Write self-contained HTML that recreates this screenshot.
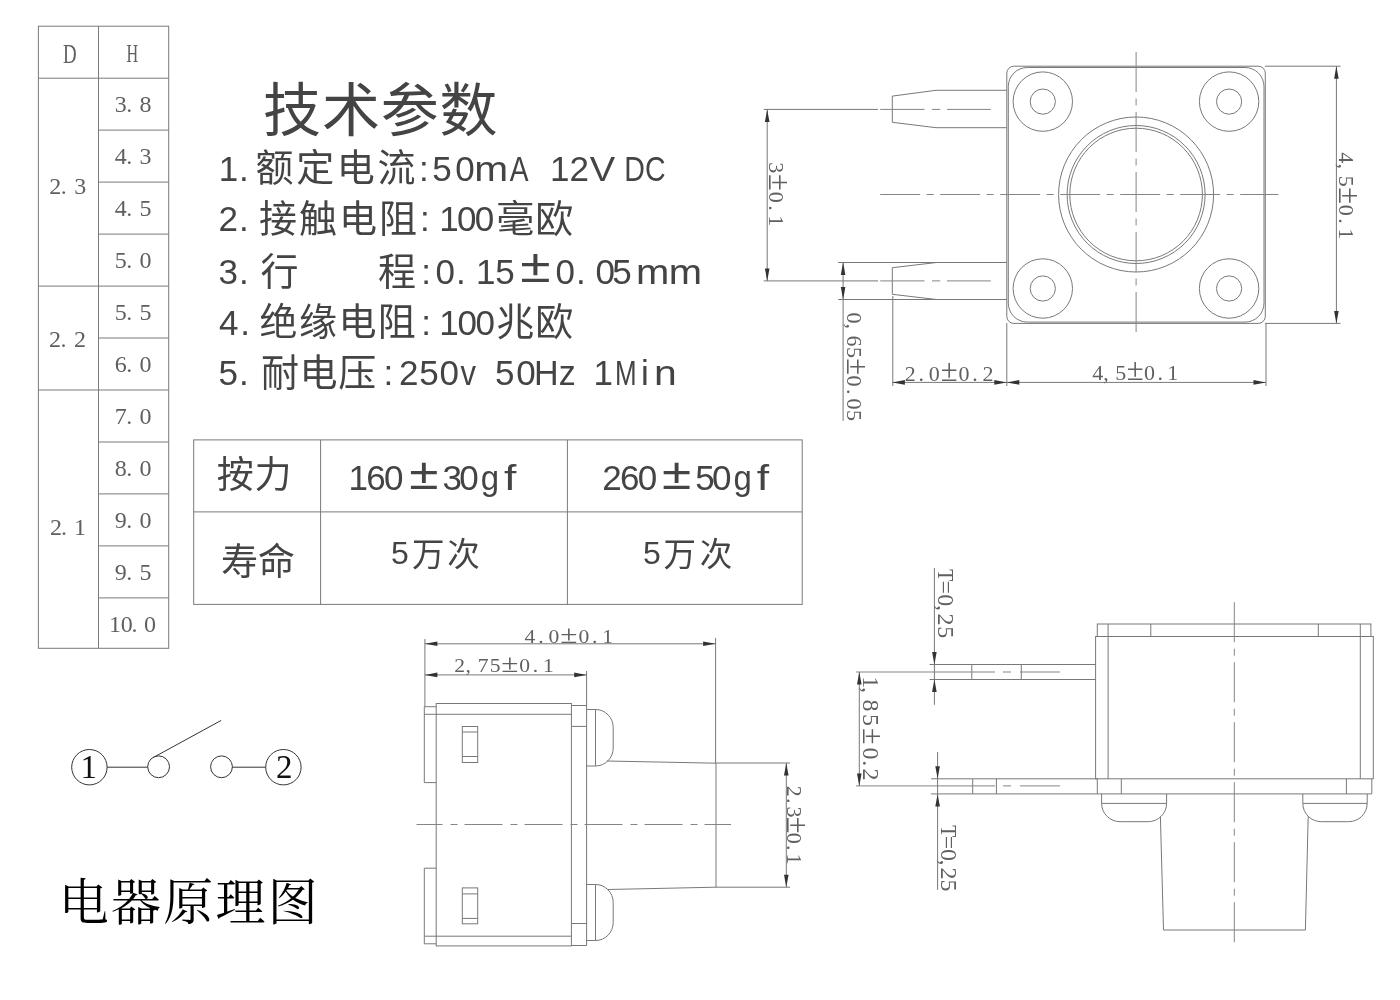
<!DOCTYPE html>
<html lang="zh-CN">
<head>
<meta charset="utf-8">
<title>技术参数</title>
<style>
html,body{margin:0;padding:0;background:#fff;}
body{width:1400px;height:1000px;overflow:hidden;}
svg{display:block;will-change:transform;}
.ln line,.ln path,.ln rect,.ln circle{fill:none;stroke:#787878;stroke-width:1;}
.ln .cen2{stroke:#858585;}
.ln .cen{stroke-dasharray:40 6.5 7 6.5;stroke:#858585;}
.tb line,.tb rect{fill:none;stroke:#7a7a7a;stroke-width:1;}
.sch line,.sch circle{fill:none;stroke:#333;stroke-width:1;}
.ar{fill:#333;stroke:none;}
text{white-space:pre;}
.cad{font-family:"Liberation Serif","Noto Serif CJK SC",serif;fill:#606060;}
.num{font-family:"Liberation Serif","Noto Serif CJK SC",serif;fill:#111;}
.song{font-family:"Liberation Serif","Noto Serif CJK SC",serif;fill:#000;}
.hei{font-family:"Liberation Sans","Noto Sans CJK SC",sans-serif;fill:#444;}
.lat{font-family:"Liberation Sans","Noto Sans CJK SC",sans-serif;fill:#444;}
</style>
</head>
<body>
<svg width="1400" height="1000" viewBox="0 0 1400 1000">
<!-- D / H table -->
<g class="tb">
<rect x="38.4" y="26.2" width="130.3" height="622.1"/>
<line x1="98.5" y1="26.2" x2="98.5" y2="648.3"/>
<line x1="38.4" y1="78.2" x2="168.7" y2="78.2"/>
<line x1="98.5" y1="130.1" x2="168.7" y2="130.1"/>
<line x1="98.5" y1="182.1" x2="168.7" y2="182.1"/>
<line x1="98.5" y1="234.1" x2="168.7" y2="234.1"/>
<line x1="38.4" y1="286.1" x2="168.7" y2="286.1"/>
<line x1="98.5" y1="338" x2="168.7" y2="338"/>
<line x1="38.4" y1="390" x2="168.7" y2="390"/>
<line x1="98.5" y1="442" x2="168.7" y2="442"/>
<line x1="98.5" y1="493.9" x2="168.7" y2="493.9"/>
<line x1="98.5" y1="545.9" x2="168.7" y2="545.9"/>
<line x1="98.5" y1="597.9" x2="168.7" y2="597.9"/>
</g>
<text class="cad" font-size="27" textLength="13.63" lengthAdjust="spacingAndGlyphs" x="63.1" y="63.2">D</text>
<text class="cad" font-size="26" textLength="11.64" lengthAdjust="spacingAndGlyphs" x="126.6" y="62.2">H</text>
<text class="cad" text-anchor="middle" y="112"><tspan font-size="24" x="120.80 129.16 145.50">3.8</tspan></text>
<text class="cad" text-anchor="middle" y="163.9"><tspan font-size="24" x="120.80 129.16 145.50">4.3</tspan></text>
<text class="cad" text-anchor="middle" y="215.9"><tspan font-size="24" x="120.80 129.16 145.50">4.5</tspan></text>
<text class="cad" text-anchor="middle" y="267.9"><tspan font-size="24" x="120.80 129.16 145.50">5.0</tspan></text>
<text class="cad" text-anchor="middle" y="319.9"><tspan font-size="24" x="120.80 129.16 145.50">5.5</tspan></text>
<text class="cad" text-anchor="middle" y="371.8"><tspan font-size="24" x="120.80 129.16 145.50">6.0</tspan></text>
<text class="cad" text-anchor="middle" y="423.8"><tspan font-size="24" x="120.80 129.16 145.50">7.0</tspan></text>
<text class="cad" text-anchor="middle" y="475.8"><tspan font-size="24" x="120.80 129.16 145.50">8.0</tspan></text>
<text class="cad" text-anchor="middle" y="527.7"><tspan font-size="24" x="120.80 129.16 145.50">9.0</tspan></text>
<text class="cad" text-anchor="middle" y="579.7"><tspan font-size="24" x="120.80 129.16 145.50">9.5</tspan></text>
<text class="cad" text-anchor="middle" y="631.7"><tspan font-size="24" x="114.90 126.63 134.43 150.10">10.0</tspan></text>
<text class="cad" text-anchor="middle" y="194.3"><tspan font-size="24" x="55.30 63.80 80.30">2.3</tspan></text>
<text class="cad" text-anchor="middle" y="347.4"><tspan font-size="24" x="55.10 63.51 79.90">2.2</tspan></text>
<text class="cad" text-anchor="middle" y="535.4"><tspan font-size="24" x="56.00 64.09 80.10">2.1</tspan></text>
<!-- technical parameters -->
<text class="hei" font-size="58" textLength="234.42" lengthAdjust="spacing" x="263.1" y="131.3">技术参数</text>
<text><tspan class="lat" font-size="35" textLength="30.10" lengthAdjust="spacing" x="218.7" y="180.6">1.</tspan><tspan class="hei" font-size="38" textLength="159.82" lengthAdjust="spacing" x="255.6" y="181.2">额定电流</tspan><tspan class="lat" font-size="35" x="419" y="180.6">:</tspan><tspan class="lat" font-size="35" textLength="42.54" lengthAdjust="spacing" x="432.3" y="180.6">50</tspan><tspan class="lat" font-size="35" textLength="33.88" lengthAdjust="spacingAndGlyphs" x="474.3" y="180.6">m</tspan><tspan class="lat" font-size="35" textLength="18.81" lengthAdjust="spacingAndGlyphs" x="509.7" y="180.6">A</tspan> <tspan class="lat" font-size="35" textLength="38.94" lengthAdjust="spacing" x="550" y="180.6">12</tspan><tspan class="lat" font-size="35" textLength="25.41" lengthAdjust="spacingAndGlyphs" x="589.7" y="180.6">V</tspan> <tspan class="lat" font-size="35" textLength="41.23" lengthAdjust="spacingAndGlyphs" x="624.3" y="180.6">DC</tspan></text>
<text><tspan class="lat" font-size="35" textLength="30.10" lengthAdjust="spacing" x="218.6" y="231.2">2.</tspan><tspan class="hei" font-size="38" textLength="158.02" lengthAdjust="spacing" x="258.9" y="231.8">接触电阻</tspan><tspan class="lat" font-size="35" x="420.1" y="231.2">:</tspan><tspan class="lat" font-size="35" textLength="55.03" lengthAdjust="spacing" x="439.3" y="231.2">100</tspan><tspan class="hei" font-size="38" textLength="76.92" lengthAdjust="spacing" x="496.3" y="231.8">毫欧</tspan></text>
<text><tspan class="lat" font-size="35" textLength="30.10" lengthAdjust="spacing" x="218.6" y="284">3.</tspan><tspan class="hei" font-size="38" x="260.4" y="284.6">行</tspan>    <tspan class="hei" font-size="38" x="378.1" y="284.6">程</tspan><tspan class="lat" font-size="35" x="421.3" y="284">:</tspan><tspan class="lat" font-size="35" textLength="30.10" lengthAdjust="spacing" x="435.6" y="284">0.</tspan><tspan class="lat" font-size="35" textLength="38.94" lengthAdjust="spacing" x="475.9" y="284">15</tspan><tspan class="lat" font-size="47" textLength="30.30" lengthAdjust="spacingAndGlyphs" x="520.3" y="282">±</tspan><tspan class="lat" font-size="35" textLength="30.10" lengthAdjust="spacing" x="555.6" y="284">0.</tspan><tspan class="lat" font-size="35" textLength="36.24" lengthAdjust="spacing" x="595.6" y="284">05</tspan><tspan class="lat" font-size="35" textLength="33.28" lengthAdjust="spacingAndGlyphs" x="635.9" y="284">m</tspan><tspan class="lat" font-size="35" textLength="33.28" lengthAdjust="spacingAndGlyphs" x="668.7" y="284">m</tspan></text>
<text><tspan class="lat" font-size="35" textLength="31.00" lengthAdjust="spacing" x="219.1" y="334.7">4.</tspan><tspan class="hei" font-size="38" textLength="156.22" lengthAdjust="spacing" x="259.6" y="335.3">绝缘电阻</tspan><tspan class="lat" font-size="35" x="421.3" y="334.7">:</tspan><tspan class="lat" font-size="35" textLength="55.71" lengthAdjust="spacing" x="439.3" y="334.7">100</tspan><tspan class="hei" font-size="38" textLength="76.92" lengthAdjust="spacing" x="496.3" y="335.3">兆欧</tspan></text>
<text><tspan class="lat" font-size="35" textLength="30.10" lengthAdjust="spacing" x="218.6" y="385.2">5.</tspan><tspan class="hei" font-size="38" textLength="115.37" lengthAdjust="spacing" x="260.9" y="385.8">耐电压</tspan><tspan class="lat" font-size="35" x="383.6" y="385.2">:</tspan><tspan class="lat" font-size="35" textLength="59.76" lengthAdjust="spacing" x="399.1" y="385.2">250</tspan><tspan class="lat" font-size="35" textLength="15.47" lengthAdjust="spacingAndGlyphs" x="460.6" y="385.2">v</tspan> <tspan class="lat" font-size="35" textLength="40.74" lengthAdjust="spacing" x="495.1" y="385.2">50</tspan><tspan class="lat" font-size="35" textLength="41.67" lengthAdjust="spacingAndGlyphs" x="534.1" y="385.2">Hz</tspan> <tspan class="lat" font-size="35" x="593.5" y="385.2">1</tspan><tspan class="lat" font-size="35" textLength="21.62" lengthAdjust="spacingAndGlyphs" x="615" y="385.2">M</tspan><tspan class="lat" font-size="35" x="641.1" y="385.2">i</tspan><tspan class="lat" font-size="35" textLength="22.74" lengthAdjust="spacingAndGlyphs" x="654" y="385.2">n</tspan></text>
<!-- force / life table -->
<g class="tb">
<rect x="193.7" y="439.9" width="608.5" height="164.5"/>
<line x1="193.7" y1="511.9" x2="802.2" y2="511.9"/>
<line x1="320.6" y1="439.9" x2="320.6" y2="604.4"/>
<line x1="567.4" y1="439.9" x2="567.4" y2="604.4"/>
</g>
<text class="hei" font-size="37" textLength="74.90" lengthAdjust="spacing" x="216.7" y="488.3">按力</text>
<text class="hei" font-size="37" textLength="74.00" lengthAdjust="spacing" x="221" y="575.1">寿命</text>
<text><tspan class="lat" font-size="35" textLength="55.03" lengthAdjust="spacing" x="348.5" y="490">160</tspan><tspan class="lat" font-size="44" textLength="29.17" lengthAdjust="spacingAndGlyphs" x="409.3" y="488.7">±</tspan><tspan class="lat" font-size="35" textLength="36.24" lengthAdjust="spacing" x="442.5" y="490">30</tspan><tspan class="lat" font-size="35" textLength="18.30" lengthAdjust="spacingAndGlyphs" x="480.8" y="490">g</tspan><tspan class="lat" font-size="35" textLength="12.36" lengthAdjust="spacingAndGlyphs" x="503.9" y="490">f</tspan></text>
<text><tspan class="lat" font-size="35" textLength="55.03" lengthAdjust="spacing" x="602.3" y="490">260</tspan><tspan class="lat" font-size="44" textLength="29.17" lengthAdjust="spacingAndGlyphs" x="662.1" y="488.7">±</tspan><tspan class="lat" font-size="35" textLength="36.24" lengthAdjust="spacing" x="695.3" y="490">50</tspan><tspan class="lat" font-size="35" textLength="18.30" lengthAdjust="spacingAndGlyphs" x="733.6" y="490">g</tspan><tspan class="lat" font-size="35" textLength="12.36" lengthAdjust="spacingAndGlyphs" x="756.7" y="490">f</tspan></text>
<text><tspan class="lat" font-size="32" x="391" y="564.4">5</tspan><tspan class="hei" font-size="32.5" textLength="67.72" lengthAdjust="spacing" x="412" y="566">万次</tspan></text>
<text><tspan class="lat" font-size="32" x="643" y="564.4">5</tspan><tspan class="hei" font-size="32.5" textLength="68.62" lengthAdjust="spacing" x="663.6" y="566">万次</tspan></text>
<!-- schematic symbol -->
<g class="sch">
<circle cx="89.4" cy="767.2" r="17.7"/>
<circle cx="158.6" cy="766.8" r="10.9"/>
<circle cx="221.5" cy="766.8" r="10.9"/>
<circle cx="283.4" cy="767.2" r="17.7"/>
<line x1="107.1" y1="767.2" x2="147.7" y2="767.2"/>
<line x1="232.4" y1="767.2" x2="265.7" y2="767.2"/>
<line x1="153.1" y1="757.6" x2="221.2" y2="720.4"/>
</g>
<text class="num" font-size="33" x="80.4" y="777.9">1</text>
<text class="num" font-size="33" x="276.1" y="777.9">2</text>
<text class="song" font-size="50" textLength="259.00" lengthAdjust="spacing" x="58.7" y="920.3">电器原理图</text>
<!-- top view -->
<g class="ln">
<rect x="1006.8" y="66.2" width="258.5" height="257.2" rx="7"/>
<rect x="1008.3" y="67.5" width="255.7" height="254.6" rx="19"/>
<circle cx="1136.1" cy="194.5" r="77.5"/>
<circle cx="1136.1" cy="194.5" r="69"/>
<circle cx="1136.1" cy="194.5" r="66.3"/>
<circle cx="1042.8" cy="101.6" r="29.7"/>
<circle cx="1042.8" cy="101.6" r="12.6"/>
<circle cx="1042.8" cy="288.5" r="29.7"/>
<circle cx="1042.8" cy="288.5" r="12.6"/>
<circle cx="1229.1" cy="101.6" r="29.7"/>
<circle cx="1229.1" cy="101.6" r="12.6"/>
<circle cx="1229.1" cy="288.5" r="29.7"/>
<circle cx="1229.1" cy="288.5" r="12.6"/>
<path d="M1006.8 90.3 L936 90.3 L892.3 96.1 L892.3 122.3 L936 127.7 L1006.8 127.7"/>
<path d="M1006.8 262.5 L936.5 262.5 L892.3 267.7 L892.3 294.3 L936.5 299.5 L1006.8 299.5"/>
<line x1="880.2" y1="194.5" x2="1278.4" y2="194.5" class="cen"/>
<line x1="1136.1" y1="52" x2="1136.1" y2="338" class="cen"/>
<line x1="763.7" y1="109.4" x2="878" y2="109.4"/>
<line x1="880.2" y1="109.4" x2="924.5" y2="109.4" class="cen2"/>
<line x1="932" y1="109.4" x2="940.2" y2="109.4" class="cen2"/>
<line x1="947" y1="109.4" x2="990.8" y2="109.4" class="cen2"/>
<line x1="763.7" y1="280.9" x2="878" y2="280.9"/>
<line x1="880.2" y1="280.9" x2="924.5" y2="280.9" class="cen2"/>
<line x1="932" y1="280.9" x2="940.2" y2="280.9" class="cen2"/>
<line x1="947" y1="280.9" x2="990.8" y2="280.9" class="cen2"/>
<line x1="767.2" y1="109.4" x2="767.2" y2="280.9"/>
<line x1="838.2" y1="262.5" x2="937" y2="262.5"/>
<line x1="838.2" y1="299.5" x2="937" y2="299.5"/>
<line x1="843.1" y1="262.5" x2="843.1" y2="420.9"/>
<line x1="892.8" y1="296" x2="892.8" y2="386"/>
<line x1="1006.8" y1="323" x2="1006.8" y2="386"/>
<line x1="1266" y1="323.4" x2="1266" y2="386"/>
<line x1="892.4" y1="382.4" x2="1266" y2="382.4"/>
<line x1="1265" y1="66.2" x2="1340.5" y2="66.2"/>
<line x1="1265" y1="323.4" x2="1340.5" y2="323.4"/>
<line x1="1336.4" y1="66.2" x2="1336.4" y2="323.4"/>
</g>
<polygon class="ar" points="767.2,109.4 764.9,121.9 769.5,121.9"/>
<polygon class="ar" points="767.2,280.9 764.9,268.4 769.5,268.4"/>
<polygon class="ar" points="843.1,262.5 840.8,275 845.4,275"/>
<polygon class="ar" points="843.1,299.5 840.8,287 845.4,287"/>
<polygon class="ar" points="892.4,382.4 904.9,380.1 904.9,384.7"/>
<polygon class="ar" points="1006.8,382.4 994.3,380.1 994.3,384.7"/>
<polygon class="ar" points="1006.8,382.4 1019.3,380.1 1019.3,384.7"/>
<polygon class="ar" points="1266,382.4 1253.5,380.1 1253.5,384.7"/>
<polygon class="ar" points="1336.4,66.2 1334.1,78.7 1338.7,78.7"/>
<polygon class="ar" points="1336.4,323.4 1334.1,310.9 1338.7,310.9"/>
<text class="cad" text-anchor="middle" transform="translate(768.5 0) rotate(90)" y="0"><tspan font-size="22" x="167.85">3</tspan><tspan font-size="30.8" x="182.52">±</tspan><tspan font-size="22" x="197.18 207.98 220.65">0.1</tspan></text>
<text class="cad" text-anchor="middle" transform="translate(846.9 0) rotate(90)" y="0"><tspan font-size="22" x="317.95 326.33 340.91 352.40">0,65</tspan><tspan font-size="30.8" x="366.75">±</tspan><tspan font-size="22" x="381.10 391.67 404.07 415.55">0.05</tspan></text>
<text class="cad" text-anchor="middle" y="381.4"><tspan font-size="22" x="910.35 921.33 934.23">2.0</tspan><tspan font-size="30.8" x="949.15">±</tspan><tspan font-size="22" x="964.07 975.06 987.95">0.2</tspan></text>
<text class="cad" text-anchor="middle" y="380.2"><tspan font-size="22" x="1097.65 1106.07 1120.73">4,5</tspan><tspan font-size="30.8" x="1135.15">±</tspan><tspan font-size="22" x="1149.57 1160.19 1172.65">0.1</tspan></text>
<text class="cad" text-anchor="middle" transform="translate(1338.5 0) rotate(90)" y="0"><tspan font-size="22" x="157.75 166.29 181.13">4,5</tspan><tspan font-size="30.8" x="195.75">±</tspan><tspan font-size="22" x="210.37 221.12 233.75">0.1</tspan></text>
<!-- side view -->
<g class="ln">
<rect x="436.2" y="703.5" width="135.2" height="242.4"/>
<line x1="424.3" y1="714.3" x2="571.4" y2="714.3"/>
<line x1="424.3" y1="936.2" x2="571.4" y2="936.2"/>
<path d="M436.2 706.7 L424.3 706.7 L424.3 782.6 L436.2 782.6"/>
<path d="M436.2 868.2 L424.3 868.2 L424.3 943.8 L436.2 943.8"/>
<line x1="571.4" y1="705.5" x2="586.6" y2="705.5"/>
<line x1="571.4" y1="945.5" x2="586.6" y2="945.5"/>
<line x1="586.6" y1="671" x2="586.6" y2="945.5"/>
<line x1="571.4" y1="726.4" x2="586.8" y2="726.4"/>
<line x1="571.4" y1="923.5" x2="586.8" y2="923.5"/>
<path d="M586.6 709.5 H595.5 A17.6 18 0 0 1 613.2 727.5 V748 A17.6 18 0 0 1 595.5 766 H586.6"/>
<line x1="595.5" y1="709.5" x2="595.5" y2="766"/>
<path d="M586.6 884.5 H595.5 A17.6 18 0 0 1 613.2 902.5 V922.5 A17.6 18 0 0 1 595.5 940.5 H586.6"/>
<line x1="595.5" y1="884.5" x2="595.5" y2="940.5"/>
<rect x="462.3" y="726.5" width="15.4" height="36"/>
<line x1="462.3" y1="732" x2="477.7" y2="732"/>
<line x1="462.3" y1="756.5" x2="477.7" y2="756.5"/>
<rect x="462.3" y="887.9" width="15.4" height="35.9"/>
<line x1="462.3" y1="893.9" x2="477.7" y2="893.9"/>
<line x1="462.3" y1="918.4" x2="477.7" y2="918.4"/>
<path d="M607 761 L716 763.2 L716 887.2 L608 889.5"/>
<line x1="416.5" y1="824.5" x2="731" y2="824.5" class="cen" style="stroke-dasharray:26 8 7 7 38 8 7 7 38 8 7 7 38 8 7 7 38 8 7 7 38"/>
<line x1="424.9" y1="639" x2="424.9" y2="706.7"/>
<line x1="715.6" y1="637.9" x2="715.6" y2="763"/>
<line x1="424.9" y1="643.8" x2="715.6" y2="643.8"/>
<line x1="424.9" y1="674.9" x2="586.7" y2="674.9"/>
<line x1="716" y1="763" x2="790" y2="763"/>
<line x1="716" y1="887.2" x2="790" y2="887.2"/>
<line x1="786.3" y1="763" x2="786.3" y2="887.2"/>
</g>
<polygon class="ar" points="424.9,643.8 437.4,641.5 437.4,646.1"/>
<polygon class="ar" points="715.6,643.8 703.1,641.5 703.1,646.1"/>
<polygon class="ar" points="424.9,674.9 437.4,672.6 437.4,677.2"/>
<polygon class="ar" points="586.7,674.9 574.2,672.6 574.2,677.2"/>
<polygon class="ar" points="786.3,763 784,775.5 788.6,775.5"/>
<polygon class="ar" points="786.3,887.2 784,874.7 788.6,874.7"/>
<text class="cad" text-anchor="middle" transform="scale(1.2 1)" y="643.1"><tspan font-size="18" x="441.62 450.80 461.57">4.0</tspan><tspan font-size="26.1" x="474.04">±</tspan><tspan font-size="18" x="486.51 495.69 506.46">0.1</tspan></text>
<text class="cad" text-anchor="middle" transform="scale(1.2 1)" y="672.1"><tspan font-size="18" x="382.96 390.16 402.69 412.56">2,75</tspan><tspan font-size="26.1" x="424.89">±</tspan><tspan font-size="18" x="437.22 446.30 456.96">0.1</tspan></text>
<text class="cad" text-anchor="middle" transform="translate(787.4 0) rotate(90)" y="0"><tspan font-size="22" x="791.15 800.76 812.04">2.3</tspan><tspan font-size="30.8" x="825.10">±</tspan><tspan font-size="22" x="838.16 847.77 859.05">0.1</tspan></text>
<!-- front view -->
<g class="ln">
<rect x="1097.3" y="624" width="273.6" height="12.5"/>
<line x1="1108.1" y1="624" x2="1108.1" y2="636.5"/>
<line x1="1150.8" y1="624" x2="1150.8" y2="636.5"/>
<line x1="1318.3" y1="624" x2="1318.3" y2="636.5"/>
<line x1="1360.3" y1="624" x2="1360.3" y2="636.5"/>
<rect x="1095.6" y="636.5" width="277.7" height="142.3"/>
<line x1="1108.1" y1="636.5" x2="1108.1" y2="778.8"/>
<line x1="1360.3" y1="636.5" x2="1360.3" y2="778.8"/>
<path d="M1097.3 778.8 L1097.3 793.9 L1371.8 793.9 L1371.8 778.8"/>
<line x1="1121.3" y1="778.8" x2="1121.3" y2="793.9"/>
<line x1="1346.4" y1="778.8" x2="1346.4" y2="793.9"/>
<path d="M1101.6 794 V803.4 A18.5 18.3 0 0 0 1120.1 821.7 H1148.1 A18.5 18.3 0 0 0 1166.6 803.4 V794"/>
<line x1="1101.6" y1="803.4" x2="1166.6" y2="803.4"/>
<path d="M1302.8 794 V803.4 A18.5 18.3 0 0 0 1321.3 821.7 H1348.7 A18.5 18.3 0 0 0 1367.2 803.4 V794"/>
<line x1="1302.8" y1="803.4" x2="1367.2" y2="803.4"/>
<path d="M1160.4 816.4 L1163.5 930 L1305.4 930 L1308.2 816.2"/>
<line x1="1234.3" y1="602.2" x2="1234.3" y2="947" class="cen"/>
<path d="M1095.7 664.5 L971.8 664.5 L971.8 679.5 L1095.7 679.5"/>
<line x1="1021.3" y1="664.5" x2="1021.3" y2="679.5"/>
<path d="M1097.3 778.8 L972.7 778.8 L972.7 793.9 L1097.3 793.9"/>
<line x1="996.4" y1="778.8" x2="996.4" y2="793.9"/>
<line x1="856" y1="672" x2="995" y2="672" class="cen2"/>
<line x1="1003" y1="672" x2="1011" y2="672" class="cen2"/>
<line x1="1020" y1="672" x2="1060" y2="672" class="cen2"/>
<line x1="856" y1="785.9" x2="995" y2="785.9" class="cen2"/>
<line x1="1003" y1="785.9" x2="1011" y2="785.9" class="cen2"/>
<line x1="1020" y1="785.9" x2="1060" y2="785.9" class="cen2"/>
<line x1="859.3" y1="672" x2="859.3" y2="785.9"/>
<line x1="929.6" y1="664.5" x2="971.8" y2="664.5"/>
<line x1="929.6" y1="679.5" x2="971.8" y2="679.5"/>
<line x1="934.4" y1="568" x2="934.4" y2="704.8"/>
<line x1="931" y1="778.8" x2="972.7" y2="778.8"/>
<line x1="931" y1="793.9" x2="972.7" y2="793.9"/>
<line x1="937.6" y1="752" x2="937.6" y2="889.8"/>
</g>
<polygon class="ar" points="859.3,672 857,684.5 861.6,684.5"/>
<polygon class="ar" points="859.3,785.9 857,773.4 861.6,773.4"/>
<polygon class="ar" points="934.4,664.5 932.1,652 936.7,652"/>
<polygon class="ar" points="934.4,679.5 932.1,692 936.7,692"/>
<polygon class="ar" points="937.6,778.8 935.3,766.3 939.9,766.3"/>
<polygon class="ar" points="937.6,793.9 935.3,806.4 939.9,806.4"/>
<text class="cad" text-anchor="middle" transform="translate(938.4 0) rotate(90)" y="0"><tspan font-size="24" x="575.20" textLength="12.02" lengthAdjust="spacingAndGlyphs">T</tspan><tspan font-size="24" x="587.20 600.30 608.00 619.50 632.30">=0,25</tspan></text>
<text class="cad" text-anchor="middle" transform="translate(940.6 0) rotate(90)" y="0"><tspan font-size="24" x="831.20" textLength="12.02" lengthAdjust="spacingAndGlyphs">T</tspan><tspan font-size="24" x="842.64 855.12 862.46 873.42 885.62">=0,25</tspan></text>
<text class="cad" text-anchor="middle" transform="translate(862.8 0) rotate(90)" y="0"><tspan font-size="24" x="682.20 690.00 705.60 720.00">1,85</tspan><tspan font-size="30" x="736.20">±</tspan><tspan font-size="24" x="753.60 763.20 774.60">0.2</tspan></text>
</svg>
</body>
</html>
